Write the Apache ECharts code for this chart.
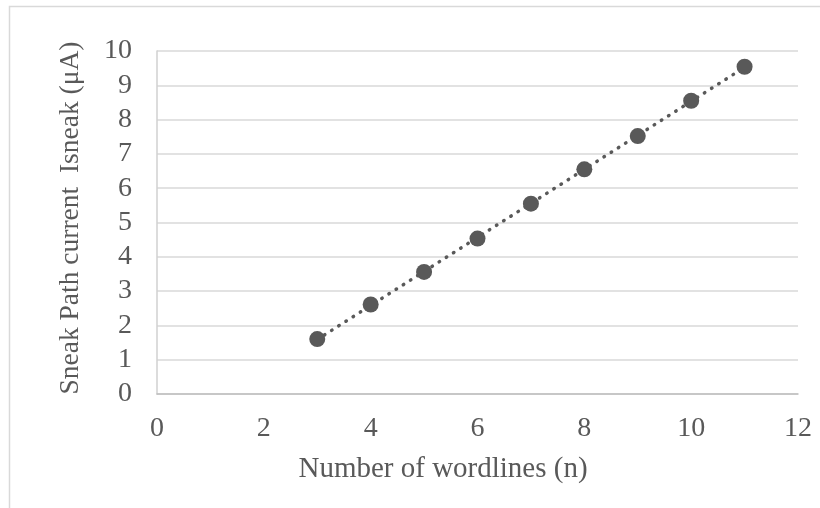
<!DOCTYPE html>
<html>
<head>
<meta charset="utf-8">
<script src="https://cdn.jsdelivr.net/npm/echarts@6/dist/echarts.min.js"></script>
<style>
  html, body { margin: 0; padding: 0; background: #fff; }
  #chart { width: 820px; height: 508px; }
</style>
</head>
<body>
<div id="chart"></div>
<script>
// Sneak path current versus number of wordlines
const wordlines = [3, 4, 5, 6, 7, 8, 9, 10, 11];
const sneakCurrent = [1.60, 2.61, 3.56, 4.53, 5.55, 6.55, 7.52, 8.55, 9.54];
const xTicks = { min: 0, max: 12, interval: 2 };
const yTicks = { min: 0, max: 10, interval: 1 };
const xTitle = 'Number of wordlines (n)';
const yTitle = 'Sneak Path current  Isneak (μA)';

// Least-squares linear trendline across the measured range
function linearFit(xs, ys) {
  const n = xs.length;
  const mx = xs.reduce((a, b) => a + b, 0) / n;
  const my = ys.reduce((a, b) => a + b, 0) / n;
  let sxy = 0, sxx = 0;
  for (let i = 0; i < n; i++) {
    sxy += (xs[i] - mx) * (ys[i] - my);
    sxx += (xs[i] - mx) * (xs[i] - mx);
  }
  const slope = sxy / sxx;
  return { slope, intercept: my - slope * mx };
}
const fit = linearFit(wordlines, sneakCurrent);
const xFirst = wordlines[0], xLast = wordlines[wordlines.length - 1];
const trend = [
  [xFirst, fit.intercept + fit.slope * xFirst],
  [xLast, fit.intercept + fit.slope * xLast]
];

const textColor = '#595959';
const font = '"Liberation Serif", "Times New Roman", serif';

const chart = echarts.init(document.getElementById('chart'), null, { renderer: 'canvas' });
chart.setOption({
  animation: false,
  backgroundColor: '#ffffff',
  grid: { left: 157, top: 51, right: 22, bottom: 114, containLabel: false },
  xAxis: {
    type: 'value',
    min: xTicks.min, max: xTicks.max, interval: xTicks.interval,
    axisLine: { show: true, onZero: false, lineStyle: { color: '#bfbfbf', width: 1.5 } },
    axisTick: { show: false },
    splitLine: { show: false },
    axisLabel: { color: textColor, fontFamily: font, fontSize: 28, margin: 21 }
  },
  yAxis: {
    type: 'value',
    min: yTicks.min, max: yTicks.max, interval: yTicks.interval,
    axisLine: { show: true, lineStyle: { color: '#d0d0d0', width: 1.5 } },
    axisTick: { show: false },
    splitLine: { show: true, lineStyle: { color: '#d9d9d9', width: 1.5 } },
    axisLabel: { color: textColor, fontFamily: font, fontSize: 28, margin: 25 }
  },
  graphic: [
    {
      type: 'rect', silent: true, z: -1,
      shape: { x: 9.5, y: 6.5, width: 830, height: 520 },
      style: { fill: 'none', stroke: '#d9d9d9', lineWidth: 1.5 }
    },
    {
      type: 'text', x: 443, y: 469,
      style: { text: xTitle, fill: textColor, font: '29px ' + font, textAlign: 'center', textVerticalAlign: 'middle' }
    },
    {
      type: 'text', x: 71, y: 218, rotation: Math.PI / 2,
      style: { text: yTitle, fill: textColor, font: '27.5px ' + font, textAlign: 'center', textVerticalAlign: 'middle' }
    }
  ],
  series: [
    {
      type: 'line',
      data: trend,
      symbol: 'none',
      silent: true,
      z: 1,
      lineStyle: { color: textColor, width: 3.5, type: [0.5, 8], cap: 'round' }
    },
    {
      type: 'scatter',
      data: wordlines.map((x, i) => [x, sneakCurrent[i]]),
      symbol: 'circle',
      symbolSize: 16,
      z: 2,
      itemStyle: { color: textColor, opacity: 1 }
    }
  ]
});
</script>
</body>
</html>
